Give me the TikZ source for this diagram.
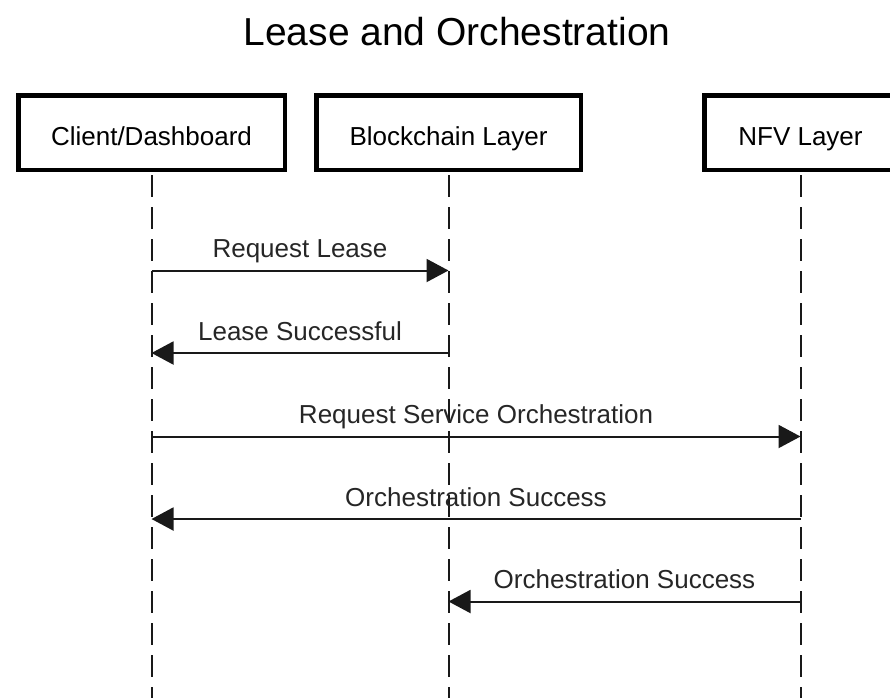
\documentclass[tikz,border=0pt]{standalone}
\usepackage{fontspec}
\setmainfont{Liberation Sans}
\usetikzlibrary{arrows.meta}

\tikzset{
  actor/.style={draw=black, line width=4.5pt, fill=white, minimum height=74.5pt,
                inner sep=0pt, font=\fontsize{26}{30}\selectfont},
  lifeline/.style={line width=2pt, draw=black!90, dash pattern=on 22pt off 10pt, dash phase=29pt},
  msg/.style={line width=2pt, draw=black!90, -{Triangle[length=22pt, width=23pt]}},
  msglabel/.style={font=\fontsize{26}{30}\selectfont, text=black!85, anchor=base, inner sep=0pt},
}

\begin{document}
\begin{tikzpicture}[x=1pt, y=-1pt]
  \useasboundingbox (0,0) rectangle (890,697);
  \clip (0,0) rectangle (890,697);

  % title
  \node[font=\fontsize{39}{44}\selectfont, anchor=base, inner sep=0pt] (title) at (457,45) {Lease and Orchestration};

  % participants
  \node[actor, minimum width=266.5pt] (client) at (151.5,132.5) {};
  \node[actor, minimum width=264.5pt] (chain)  at (448.5,132.5) {};
  \node[actor, minimum width=192.5pt] (nfv)    at (800.5,132.5) {};
  \node[msglabel, text=black] (clientT) at (151.5,145) {Client/Dashboard};
  \node[msglabel, text=black] (chainT)  at (448.5,145) {Blockchain Layer};
  \node[msglabel, text=black] (nfvT)    at (800.5,145) {NFV Layer};

  % lifeline ends
  \coordinate (clientEnd) at (151.5,700);
  \coordinate (chainEnd)  at (448.5,700);
  \coordinate (nfvEnd)    at (800.5,700);
  \draw[lifeline] (client.south) -- (clientEnd);
  \draw[lifeline] (chain.south)  -- (chainEnd);
  \draw[lifeline] (nfv.south)    -- (nfvEnd);

  % message anchor points on the lifelines
  \coordinate (c1) at (151.5,270.5);  \coordinate (b1) at (448.5,270.5);
  \coordinate (c2) at (151.5,353);    \coordinate (b2) at (448.5,353);
  \coordinate (c3) at (151.5,436.5);  \coordinate (n3) at (800.5,436.5);
  \coordinate (c4) at (151.5,519);    \coordinate (n4) at (800.5,519);
  \coordinate (b5) at (448.5,601.5);  \coordinate (n5) at (800.5,601.5);

  % messages
  \draw[msg] (c1) -- (b1);
  \node[msglabel] (m1) at (300,257.5) {Request Lease};
  \draw[msg] (b2) -- (c2);
  \node[msglabel] (m2) at (300,340) {Lease Successful};
  \draw[msg] (c3) -- (n3);
  \node[msglabel] (m3) at (476,423.5) {Request Service Orchestration};
  \draw[msg] (n4) -- (c4);
  \node[msglabel] (m4) at (476,506) {Orchestration Success};
  \draw[msg] (n5) -- (b5);
  \node[msglabel] (m5) at (624.5,588.5) {Orchestration Success};
\end{tikzpicture}
\end{document}
